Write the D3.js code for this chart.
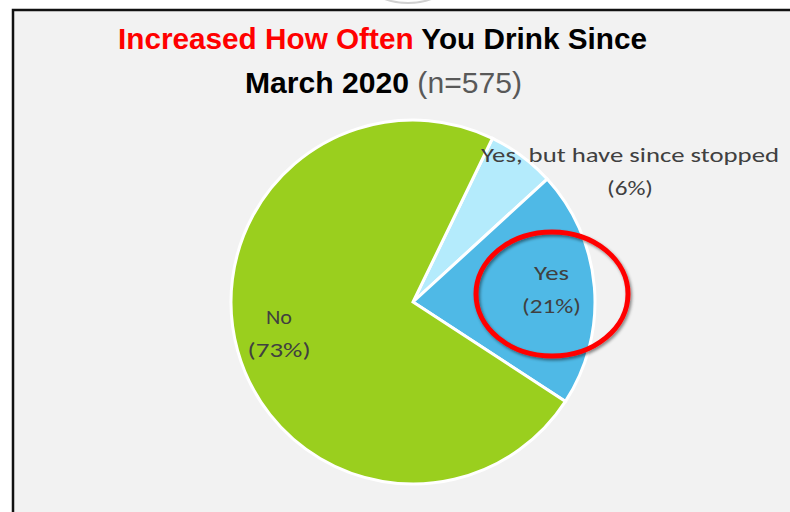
<!DOCTYPE html>
<html><head><meta charset="utf-8">
<script src="https://cdn.jsdelivr.net/npm/d3@7"></script>
<style>html,body{margin:0;padding:0;background:#fff;}svg{display:block;}</style>
</head><body>
<script>
const categories = ["Yes, but have since stopped", "Yes", "No"];
const values = [6, 21, 73];
const pctLabels = ["(6%)", "(21%)", "(73%)"];
const colors = ["#b4ebfc", "#4fb9e6", "#9acf1e"];
const titleLine1 = [{t:"Increased How Often ", c:"#ff0000", w:"bold"}, {t:"You Drink Since", c:"#000", w:"bold"}];
const titleLine2 = [{t:"March 2020 ", c:"#000", w:"bold"}, {t:"(n=575)", c:"#595959", w:"normal"}];

const W = 790, H = 512;
const svg = d3.select("body").append("svg").attr("width", W).attr("height", H);
const defs = svg.append("defs");
const f = defs.append("filter").attr("id","sh").attr("x","-20%").attr("y","-20%").attr("width","140%").attr("height","140%");
f.append("feDropShadow").attr("dx",1.5).attr("dy",2).attr("stdDeviation",1.8).attr("flood-color","#000").attr("flood-opacity",0.45);

svg.append("rect").attr("width", W).attr("height", H).attr("fill", "#ffffff");
// faint shape peeking above the frame
svg.append("ellipse").attr("cx",408).attr("cy",-28).attr("rx",47).attr("ry",31)
  .attr("fill","#fff").attr("stroke","#d0d0d0").attr("stroke-width",2);
// chart area
svg.append("rect").attr("x", 13).attr("y", 10).attr("width", W + 10).attr("height", H)
  .attr("fill", "#f2f2f2").attr("stroke", "#111").attr("stroke-width", 2.5);

const font = "'Liberation Sans Narrow','Liberation Sans',Arial,sans-serif";

function titleLine(parts, cx, y, len) {
  const t = svg.append("text").attr("x", cx).attr("y", y).attr("text-anchor", "middle")
    .attr("font-family", font).attr("font-size", 29)
    .attr("textLength", len).attr("lengthAdjust", "spacingAndGlyphs");
  parts.forEach(p => t.append("tspan").text(p.t).attr("fill", p.c).attr("font-weight", p.w));
}
titleLine(titleLine1, 382.5, 49, 529);
titleLine(titleLine2, 383.5, 93, 277);

const cx = 413, cy = 302, r = 182;
const deg = Math.PI / 180;
const start = 25.9 * deg;
const pie = d3.pie().sort(null).value(d => d).startAngle(start).endAngle(start + 2 * Math.PI);
const arcs = pie(values);
const arc = d3.arc().innerRadius(0).outerRadius(r);
const g = svg.append("g").attr("transform", `translate(${cx},${cy})`);
g.selectAll("path").data(arcs).join("path")
  .attr("d", arc).attr("fill", (d, i) => colors[i])
  .attr("stroke", "#fff").attr("stroke-width", 3).attr("stroke-linejoin", "miter");

const labelArc = d3.arc().innerRadius(139).outerRadius(139);
const labelShift = [[0, 0], [0, -2], [0, -6]];
const labelFont = "Calibri,Carlito,'Open Sans',sans-serif";
const catLen = [298, 35, 26];
const pctLen = [46, 59, 63];
arcs.forEach((a, i) => {
  let x, y;
  if (i === 0) { x = 630 - cx; y = 171 - cy; }
  else { const c = labelArc.centroid(a); x = c[0] + labelShift[i][0]; y = c[1] + labelShift[i][1]; }
  const t = g.append("text").attr("text-anchor", "middle").attr("font-family", labelFont)
    .attr("font-size", 20).attr("fill", "#404040");
  t.append("tspan").attr("x", x).attr("y", y - 9).text(categories[i])
    .attr("textLength", catLen[i]).attr("lengthAdjust", "spacingAndGlyphs");
  t.append("tspan").attr("x", x).attr("y", y + 24).text(pctLabels[i])
    .attr("textLength", pctLen[i]).attr("lengthAdjust", "spacingAndGlyphs");
});

// red highlight ellipse
svg.append("ellipse").attr("cx", 552).attr("cy", 294).attr("rx", 76).attr("ry", 62)
  .attr("fill", "none").attr("stroke", "#ff0000").attr("stroke-width", 5).attr("filter", "url(#sh)");
</script>
</body></html>
